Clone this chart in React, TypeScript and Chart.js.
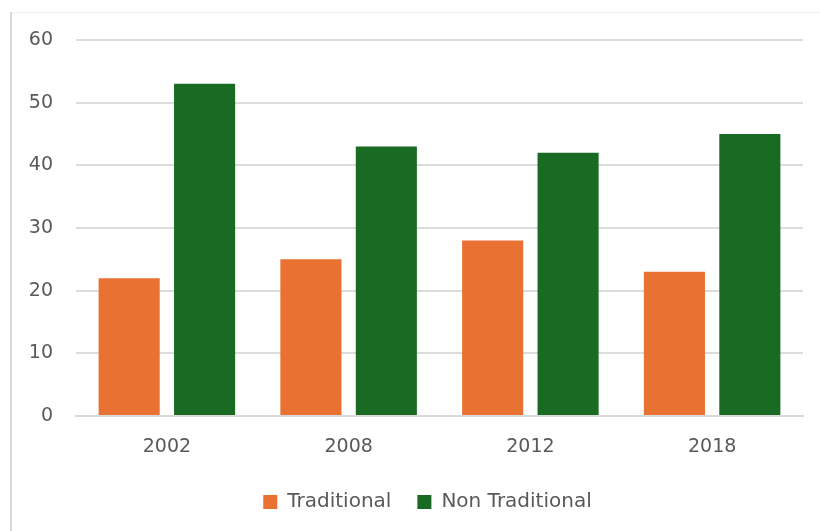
import React, { useEffect, useRef } from "react";
import { Chart, registerables } from "chart.js";

Chart.register(...registerables);

const categories = ["2002", "2008", "2012", "2018"];
const traditional = [22, 25, 28, 23];
const nonTraditional = [53, 43, 42, 45];
const yTicks = [0, 10, 20, 30, 40, 50, 60];

const FONT = "'DejaVu Sans', 'Open Sans', sans-serif";

const legendShift = {
  id: "legendShift",
  afterLayout(chart: any) {
    const l = chart.legend;
    if (l) {
      l.left += 26;
      l.right += 26;
    }
  },
};

export default function App() {
  const ref = useRef<HTMLCanvasElement | null>(null);

  useEffect(() => {
    document.body.style.margin = "0";
    const ctx = ref.current!;
    const chart = new Chart(ctx, {
      type: "bar",
      plugins: [legendShift],
      data: {
        labels: categories,
        datasets: [
          {
            label: "Traditional",
            data: traditional,
            backgroundColor: "#E97132",
            categoryPercentage: 0.83,
            barPercentage: 0.81,
          },
          {
            label: "Non Traditional",
            data: nonTraditional,
            backgroundColor: "#196B24",
            categoryPercentage: 0.83,
            barPercentage: 0.81,
          },
        ],
      },
      options: {
        animation: false,
        responsive: false,
        maintainAspectRatio: false,
        layout: { padding: { left: 0, right: 17, top: 40, bottom: 9 } },
        plugins: {
          tooltip: { enabled: false },
          legend: {
            position: "bottom",
            labels: {
              boxWidth: 14,
              boxHeight: 14,
              padding: 26,
              color: "#595959",
              font: { family: FONT, size: 20 },
              generateLabels: (c: any) =>
                c.data.datasets.map((d: any, i: number) => ({
                  text: d.label,
                  fillStyle: d.backgroundColor,
                  strokeStyle: d.backgroundColor,
                  lineWidth: 0,
                  datasetIndex: i,
                  fontColor: "#595959",
                })),
            },
          },
        },
        scales: {
          x: {
            grid: { display: false, drawTicks: false },
            border: { display: true, color: "#d9d9d9", width: 2 },
            afterFit: (s: any) => {
              s.height = 50;
            },
            ticks: {
              color: "#595959",
              font: { family: FONT, size: 19 },
              padding: 20,
            },
          },
          y: {
            min: 0,
            max: 60,
            afterBuildTicks: (s: any) => {
              s.ticks = yTicks.map((v) => ({ value: v }));
            },
            afterFit: (s: any) => {
              s.width = 76;
            },
            grid: { color: "#dcdcdc", lineWidth: 2, drawTicks: false },
            border: { display: false },
            ticks: {
              color: "#595959",
              font: { family: FONT, size: 19 },
              padding: 23,
            },
          },
        },
      },
    });
    return () => chart.destroy();
  }, []);

  return (
    <div style={{ position: "fixed", left: 0, top: 0, width: 820, height: 531, background: "#fff" }}>
      <div
        style={{
          position: "absolute",
          left: 10,
          top: 12,
          width: 810,
          height: 519,
          borderLeft: "2px solid #d9d9d9",
          borderTop: "1px solid #f0f0f0",
          boxSizing: "border-box",
        }}
      />
      <canvas ref={ref} width={820} height={531} style={{ position: "absolute", left: 0, top: 0 }} />
    </div>
  );
}
